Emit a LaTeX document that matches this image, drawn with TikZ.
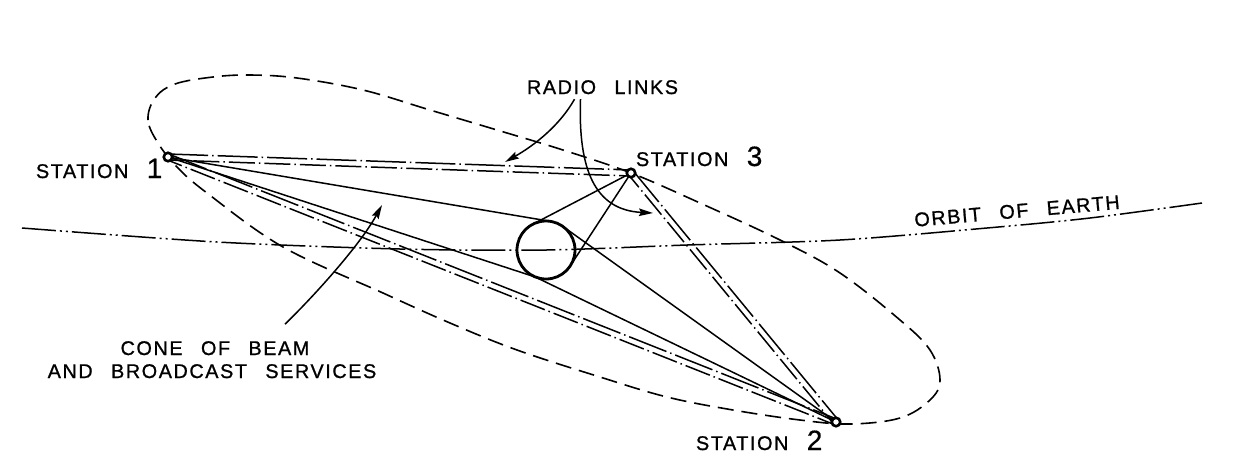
\documentclass[tikz,border=0pt]{standalone}
\usepackage{fontspec}
\usetikzlibrary{calc,arrows.meta}
\newfontfamily\lettering[LetterSpace=8,WordSpace=2.6,FakeBold=1]{Liberation Sans}
\newfontfamily\digitfont[FakeBold=0.5]{Liberation Sans}
\newcommand{\bigdigit}[1]{{\digitfont\fontsize{28}{28}\selectfont #1}}
\pgfdeclarelayer{bg}
\pgfsetlayers{bg,main}
\begin{document}
\begin{tikzpicture}[x=1pt,y=-1pt,
  lbl/.style={font=\lettering\fontsize{19.8}{23}\selectfont, inner sep=0pt, outer sep=0pt},
  station/.style={circle, draw, line width=2.6pt, fill=white, minimum size=8.5pt, inner sep=0pt, outer sep=0pt},
  earthstyle/.style={circle, draw, line width=2.8pt, minimum size=58pt, inner sep=0pt, outer sep=0pt},
  conearea/.style={dash pattern=on 16pt off 8pt, line width=1.6pt},
  orbitline/.style={dash pattern=on 34pt off 4pt on 2pt off 4pt on 2pt off 4pt, line width=1.5pt},
  tang/.style={line width=1.5pt},
  linkA/.style={line width=1.5pt, dash pattern=on 40pt off 4pt on 1.5pt off 4pt},
  linkB/.style={line width=1.5pt, dash pattern=on 26pt off 4pt on 1.5pt off 4pt, dash phase=10pt},
  pointer/.style={line width=1.5pt, -{Stealth[length=14pt,width=7.5pt,inset=2pt]}}
]
\useasboundingbox (0,0) rectangle (1233,467);

% stations and earth
\node[station] (s1) at (168,157) {};
\node[station] (s3) at (631,173) {};
\node[station] (s2) at (836,422) {};
\node[earthstyle] (earth) at (546,250) {};

% labels
\node[lbl, anchor=base west] (l1) at (36,178) {STATION \bigdigit{1}};
\node[lbl, anchor=base west] (l3) at (636,166) {STATION \bigdigit{3}};
\node[lbl, anchor=base west] (l2) at (696,450) {STATION \bigdigit{2}};
\node[lbl, anchor=base west] (radio) at (527,94) {RADIO LINKS};
\node[lbl, anchor=base] (cone) at (215,355) {CONE OF BEAM};
\node[lbl, anchor=base] (cone2) at (212,378) {AND BROADCAST SERVICES};
\node[lbl, anchor=center, rotate=5] (orbitlbl) at (1017,211) {ORBIT OF EARTH};

\coordinate (tipA) at (505,162);
\coordinate (tipB) at (653,213);
\coordinate (tipC) at (382,205);

\begin{pgfonlayer}{bg}
  \fill[white] (0,0) rectangle (1233,467);
  % cone of beam
  \draw[conearea] plot[smooth cycle, tension=0.6] coordinates {
    (158,143) (148,120) (155,98) (175,84) (213,77) (250,75) (297,78) (363,90)
    (430,110) (497,130) (563,150) (631,173) (700,203) (780,240) (840,273)
    (900,320) (930,350) (940,380) (930,400) (900,418) (850,424) (800,420)
    (733,410) (667,397) (600,377) (517,350) (450,323) (383,293) (283,247)
    (207,193) (177,167)};
  % orbit of earth
  \draw[orbitline] plot[smooth] coordinates {(22,228) (217,242) (400,249) (546,250)
    (687,245) (840,240) (987,228) (1090,218) (1202,203)};
  % radio links (pairs)
  \draw[linkA] ($(s1)!3pt!90:(s3)$) -- ($(s3)!3pt!-90:(s1)$);
  \draw[linkB] ($(s1)!3pt!-90:(s3)$) -- ($(s3)!3pt!90:(s1)$);
  \draw[linkA] ($(s1)!3pt!90:(s2)$) -- ($(s2)!3pt!-90:(s1)$);
  \draw[linkB] ($(s1)!3pt!-90:(s2)$) -- ($(s2)!3pt!90:(s1)$);
  \draw[linkA] ($(s3)!3pt!90:(s2)$) -- ($(s2)!3pt!-90:(s3)$);
  \draw[linkB] ($(s3)!3pt!-90:(s2)$) -- ($(s2)!3pt!90:(s3)$);
  % tangents to the earth
  \foreach \s in {s1,s2,s3}{
    \draw[tang] (\s) -- (tangent cs:node=earth,point={(\s)},solution=1);
    \draw[tang] (\s) -- (tangent cs:node=earth,point={(\s)},solution=2);
  }
\end{pgfonlayer}

% pointers
\draw[pointer] ([shift={(-28pt,-5pt)}]radio.south) .. controls (560,125) and (535,145) .. (tipA);
\draw[pointer] ([shift={(-22pt,-5pt)}]radio.south) .. controls (578,170) and (595,210) .. (tipB);
\draw[pointer] ([shift={(70pt,17pt)}]cone.north) .. controls (315,295) and (360,245) .. (tipC);
\end{tikzpicture}
\end{document}
